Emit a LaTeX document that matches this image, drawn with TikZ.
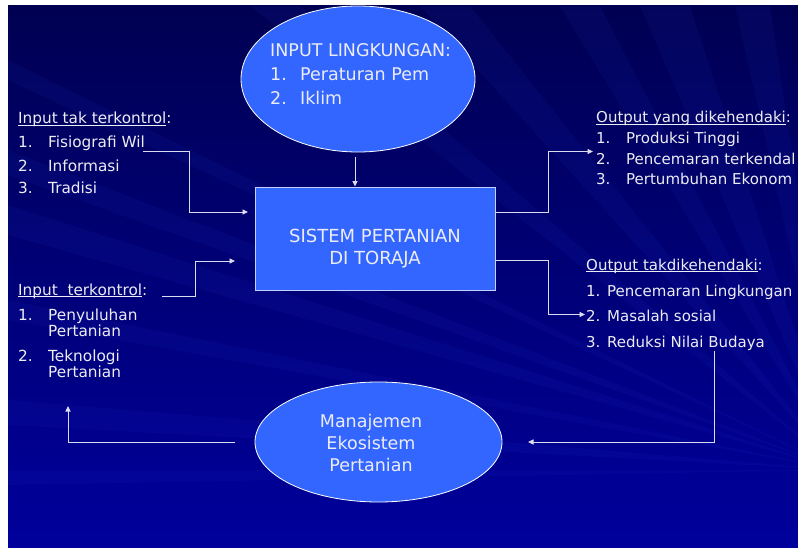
\documentclass[tikz,border=0pt]{standalone}
\usepackage{fontspec}
\setmainfont{DejaVu Sans}
\usetikzlibrary{arrows.meta,shapes.geometric}
\definecolor{bgtop}{HTML}{000052}
\definecolor{bgbot}{HTML}{00009C}
\definecolor{raycol}{HTML}{3040E0}
\definecolor{boxblue}{HTML}{3366FF}
\definecolor{txtcol}{HTML}{ECECF4}
\definecolor{linecol}{HTML}{DCDCF0}
\newcommand\myul[1]{\setbox0\hbox{#1}\rlap{\rule[-2.2pt]{\wd0}{0.8pt}}\box0}
\newcommand\numb[2]{\makebox[#1][l]{#2}}
\begin{document}
\begin{tikzpicture}[x=1pt,y=-1pt,
  conn/.style={draw=linecol, line width=0.9pt, -{Triangle[length=5.5pt,width=5pt]}},
  lbl/.style={text=txtcol, anchor=base west, inner sep=0pt, font=\fontsize{15.3}{17}\selectfont},
  rlbl/.style={lbl, font=\fontsize{15}{17}\selectfont},
  clbl/.style={text=txtcol, anchor=base, inner sep=0pt, font=\fontsize{17.5}{20}\selectfont},
  bigell/.style={ellipse, draw=white, line width=0.8pt, fill=boxblue, inner sep=0pt},
  sysbox/.style={rectangle, draw=white!70!boxblue, line width=0.9pt, fill=boxblue, inner sep=0pt},
  ray/.style={fill=raycol, opacity=0.08}]
\useasboundingbox (0,0) rectangle (798,548);
\fill[white] (0,0) rectangle (798,548);
\shade[top color=bgtop, bottom color=bgbot] (8,6) rectangle (798,548);
\begin{scope}
\clip (8,6) rectangle (798,548);
\coordinate (F) at (840,470);
\fill[ray] (F) -- (560,6) -- (600,6) -- cycle;
\fill[ray] (F) -- (640,6) -- (690,6) -- cycle;
\fill[ray] (F) -- (735,6) -- (770,6) -- cycle;
\fill[ray] (F) -- (420,6) -- (470,6) -- cycle;
\fill[ray] (F) -- (8,150) -- (8,175) -- cycle;
\fill[ray] (F) -- (8,205) -- (8,235) -- cycle;
\fill[ray] (F) -- (8,300) -- (8,320) -- cycle;
\fill[ray] (F) -- (8,400) -- (8,425) -- cycle;
\fill[ray] (F) -- (8,60) -- (8,80) -- cycle;
\fill[ray] (F) -- (250,6) -- (300,6) -- cycle;
\fill[ray] (F) -- (8,470) -- (8,485) -- cycle;
\end{scope}

% shapes
\node[bigell, minimum width=234pt, minimum height=146pt] (env) at (358,79) {};
\node[sysbox, minimum width=240pt, minimum height=103pt] (sys) at (375,238.5) {};
\node[bigell, minimum width=247pt, minimum height=120pt] (mgmt) at (378.5,442) {};

% top ellipse text
\node[clbl, anchor=base west] (e0) at (270,57) {INPUT LINGKUNGAN:};
\node[clbl, anchor=base west] (e1) at (270,81) {\numb{30pt}{1.}Peraturan Pem};
\node[clbl, anchor=base west] (e2) at (270,105) {\numb{30pt}{2.}Iklim};

% box text
\node[clbl, font=\fontsize{18}{20}\selectfont] (s1) at (375,243) {SISTEM PERTANIAN};
\node[clbl, font=\fontsize{18}{20}\selectfont] (s2) at (375,265) {DI TORAJA};

% bottom ellipse text
\node[clbl] (m1) at (371,427) {Manajemen};
\node[clbl] (m2) at (371,449) {Ekosistem};
\node[clbl] (m3) at (371,471) {Pertanian};

% left lists
\node[lbl] (itk) at (18,124) {\myul{Input tak terkontrol}:};
\node[lbl] (l1) at (18,148) {\numb{30pt}{1.}Fisiografi Wil};
\node[lbl] (l2) at (18,172) {\numb{30pt}{2.}Informasi};
\node[lbl] (l3) at (18,194) {\numb{30pt}{3.}Tradisi};

\node[lbl] (itr) at (18,295) {\myul{Input\ \ terkontrol}:};
\node[lbl] (k1) at (18,320) {\numb{30pt}{1.}Penyuluhan};
\node[lbl] (k1b) at (48,336) {Pertanian};
\node[lbl] (k2) at (18,361) {\numb{30pt}{2.}Teknologi};
\node[lbl] (k2b) at (48,377) {Pertanian};

% right lists
\node[rlbl] (oy) at (596,123) {\myul{Output yang dikehendaki}:};
\node[rlbl] (o1) at (596,144) {\numb{30pt}{1.}Produksi Tinggi};
\node[rlbl] (o2) at (596,165) {\numb{30pt}{2.}Pencemaran terkendal};
\node[rlbl] (o3) at (596,185) {\numb{30pt}{3.}Pertumbuhan Ekonom};

\node[rlbl] (ot) at (586,270) {\myul{Output takdikehendaki}:};
\node[rlbl] (t1) at (586,296) {\numb{21pt}{1.}Pencemaran Lingkungan};
\node[rlbl] (t2) at (586,321) {\numb{21pt}{2.}Masalah sosial};
\node[rlbl] (t3) at (586,347) {\numb{21pt}{3.}Reduksi Nilai Budaya};

% connector coordinates
\coordinate (c1s) at (143,151.5);
\coordinate (c1b) at (189,212);
\coordinate (c1e) at (248,212);
\coordinate (c2s) at (162,296);
\coordinate (c2b) at (195,261);
\coordinate (c2e) at (235,261);
\coordinate (c3s) at (355,157);
\coordinate (c4b) at (548,212);
\coordinate (c4e) at (593,151.5);
\coordinate (c5b) at (548,260);
\coordinate (c5e) at (585,314.5);
\coordinate (c6s) at (714,351);
\coordinate (c6e) at (528,442);
\coordinate (c7s) at (235,442);
\coordinate (c7e) at (68,406);

% connectors
\draw[conn] (c1s) -| (c1b) -- (c1e);
\draw[conn] (c2s) -| (c2b) -- (c2e);
\draw[conn] (c3s) -- (c3s |- sys.north);
\draw[conn] (sys.east |- c4b) -- (c4b) |- (c4e);
\draw[conn] (sys.east |- c5b) -- (c5b) |- (c5e);
\draw[conn] (c6s) |- (c6e);
\draw[conn] (c7s) -| (c7e);
\end{tikzpicture}
\end{document}
